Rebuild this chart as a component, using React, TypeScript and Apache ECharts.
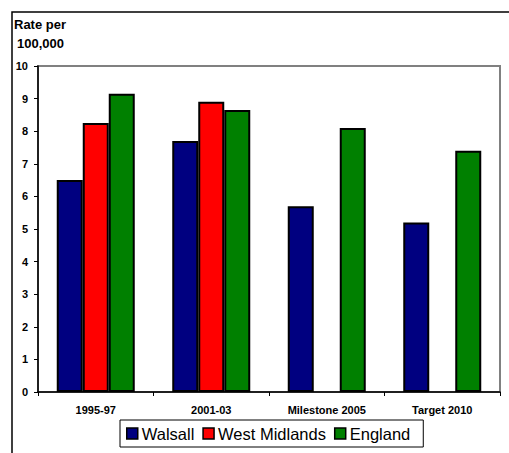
import React, { useEffect, useRef } from "react";
import * as echarts from "echarts";

const categories = ["1995-97", "2001-03", "Milestone 2005", "Target 2010"];
const walsall = [6.5, 7.7, 5.7, 5.2];
const westMidlands: (number | null)[] = [8.25, 8.9, null, null];
const england = [9.15, 8.65, 8.1, 7.4];
const yTitleLines = ["Rate per", "100,000"];

export default function App() {
  const ref = useRef<HTMLDivElement>(null);
  useEffect(() => {
    if (!ref.current) return;
    const chart = echarts.init(ref.current, undefined, { renderer: "svg" });
    const font = "'Liberation Sans', Arial, sans-serif";
    const barStyle = (color: string) => ({
      color,
      borderColor: "#000",
      borderWidth: 2,
    });
    chart.setOption({
      animation: false,
      backgroundColor: "#fff",
      textStyle: { fontFamily: font },
      grid: {
        left: 38,
        top: 66,
        right: 9,
        bottom: 61,
        show: true,
        borderColor: "#808080",
        borderWidth: 2,
        containLabel: false,
      },
      graphic: [
        {
          type: "rect",
          shape: { x: 12, y: 12, width: 600, height: 600 },
          style: { fill: "none", stroke: "#000", lineWidth: 1.5 },
          z: 100,
        },
        {
          type: "text",
          x: 14,
          y: 18,
          style: {
            text: yTitleLines[0],
            font: `bold 13px ${font}`,
            fill: "#000",
            verticalAlign: "top",
          },
        },
        {
          type: "text",
          x: 17,
          y: 37,
          style: {
            text: yTitleLines[1],
            font: `bold 13px ${font}`,
            fill: "#000",
            verticalAlign: "top",
          },
        },
      ],
      legend: {
        left: 120,
        top: 420,
        orient: "horizontal",
        itemWidth: 11,
        itemHeight: 11,
        itemGap: 8,
        padding: [5, 13, 5, 6],
        borderColor: "#000",
        borderWidth: 1,
        textStyle: { fontSize: 16.5, color: "#000", fontFamily: font, padding: [0, 0, 0, -1] },
        icon: "rect",
        itemStyle: { borderColor: "#000", borderWidth: 1.5 },
        data: ["Walsall", "West Midlands", "England"],
      },
      xAxis: {
        type: "category",
        data: categories,
        axisLine: { lineStyle: { color: "#000", width: 1.5 } },
        axisTick: { show: true, length: 4, alignWithLabel: false, lineStyle: { color: "#000" } },
        axisLabel: { fontSize: 11, fontWeight: "bold", color: "#000", margin: 12, fontFamily: font },
        splitLine: { show: false },
      },
      yAxis: {
        type: "value",
        min: 0,
        max: 10,
        interval: 1,
        axisLine: { show: true, lineStyle: { color: "#000", width: 1.5 } },
        axisTick: { show: true, length: 4, lineStyle: { color: "#000" } },
        axisLabel: { fontSize: 11, fontWeight: "bold", color: "#000", margin: 10, fontFamily: font },
        splitLine: { show: false },
      },
      series: [
        {
          name: "Walsall",
          type: "bar",
          data: walsall,
          barWidth: 26,
          barGap: "0%",
          barCategoryGap: "32%",
          itemStyle: barStyle("#000080"),
        },
        {
          name: "West Midlands",
          type: "bar",
          data: westMidlands,
          barWidth: 26,
          barGap: "0%",
          itemStyle: barStyle("#FF0000"),
        },
        {
          name: "England",
          type: "bar",
          data: england,
          barWidth: 26,
          barGap: "0%",
          itemStyle: barStyle("#008000"),
        },
      ],
    });
    return () => chart.dispose();
  }, []);
  return <div ref={ref} style={{ width: 509, height: 453, position: "absolute", left: 0, top: 0 }} />;
}
